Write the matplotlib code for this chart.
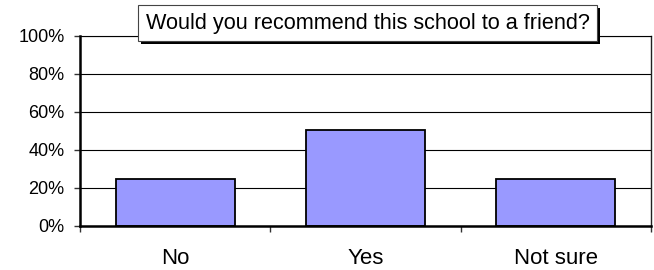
import matplotlib
matplotlib.use("Agg")
import matplotlib.pyplot as plt
from matplotlib.patches import Rectangle
import numpy as np

categories = ["No", "Yes", "Not sure"]
values = [25.0, 50.4, 24.6]
yticks = [0, 20, 40, 60, 80, 100]
ytick_labels = ["0%", "20%", "40%", "60%", "80%", "100%"]
title = "Would you recommend this school to a friend?"

plt.rcParams['font.family'] = ['Liberation Sans', 'DejaVu Sans']

W, H = 654, 270
fig = plt.figure(figsize=(W / 100, H / 100), dpi=100)
ax = fig.add_axes([80 / W, 1 - 226 / H, (651 - 80) / W, (226 - 36) / H])

x = np.arange(len(categories))
ax.bar(x, values, width=0.625, color="#9999FF", edgecolor="black", linewidth=1.3, zorder=3)

ax.set_xlim(-0.5, len(categories) - 0.5)
ax.set_ylim(0, 100)
ax.set_yticks(yticks)
ax.set_yticklabels(ytick_labels, fontsize=13)
ax.set_xticks(x)
ax.set_xticklabels(categories, fontsize=16)
ax.set_xticks(np.arange(len(categories) + 1) - 0.5, minor=True)
ax.tick_params(axis="x", which="major", length=0, pad=16)
ax.tick_params(axis="x", which="minor", length=4, width=1, color="#333333", direction="out")
ax.tick_params(axis="y", which="major", length=4, width=1, color="#333333", direction="out", pad=7)

ax.yaxis.grid(True, color="black", linewidth=0.8, zorder=0)
ax.set_axisbelow(True)
for s in ["left", "bottom"]:
    ax.spines[s].set_linewidth(1.8)
    ax.spines[s].set_color("black")
    ax.spines[s].set_zorder(4)
ax.spines["right"].set_linewidth(1.0)
ax.spines["right"].set_color("#222222")
ax.spines["top"].set_linewidth(0.8)
ax.spines["top"].set_color("black")

# Title box with shadow (figure pixel coordinates -> fraction)
bx0, bx1, by0, by1 = 138, 597, 5, 41
sh = 3
fig.patches.append(Rectangle(((bx0 + sh) / W, 1 - (by1 + sh) / H), (bx1 - bx0) / W, (by1 - by0) / H,
                             transform=fig.transFigure, facecolor="black", edgecolor="none", zorder=10))
fig.patches.append(Rectangle((bx0 / W, 1 - by1 / H), (bx1 - bx0) / W, (by1 - by0) / H,
                             transform=fig.transFigure, facecolor="white", edgecolor="#444444",
                             linewidth=0.8, zorder=11))
fig.text((bx0 + bx1) / 2 / W, 1 - (by0 + by1) / 2 / H, title, ha="center", va="center",
         fontsize=15.6, zorder=12)

fig.savefig("out.png", dpi=100)
